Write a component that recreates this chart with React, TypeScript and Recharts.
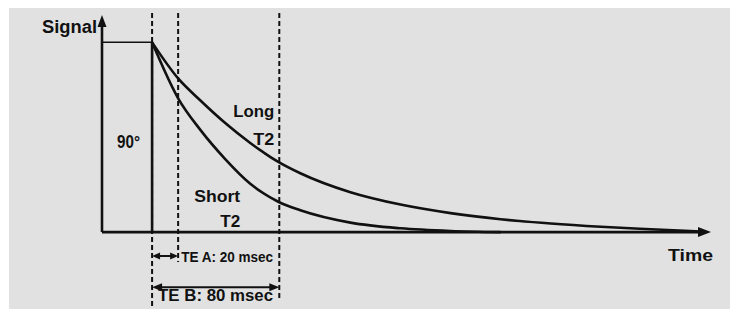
import React from 'react';
import { ComposedChart, Line, XAxis, YAxis, ReferenceLine, ReferenceDot } from 'recharts';

// time in arbitrary units (pulse at 50), signal in % of the initial value
const longT2Time = [50, 76, 98, 123, 148, 176, 198, 248, 298, 348, 398, 448, 498, 548, 598];
const longT2Signal = [100, 81, 69.5, 57.5, 47, 37, 31, 21, 14.5, 10, 6.8, 4.5, 2.8, 1.5, 0.3];

const shortT2Time = [50, 76, 98, 123, 148, 176, 198, 248, 298, 348, 398];
const shortT2Signal = [100, 70.5, 54, 38.5, 25.5, 16, 11.5, 5, 2, 0.6, 0];

const pulseTime = 50;
const teATime = 76;
const teBTime = 177;
const pulseLabel = '90°';
const axisLabels = { y: 'Signal', x: 'Time' };
const curveLabels = { long: ['Long', 'T2'], short: ['Short', 'T2'] };
const teLabels = { a: 'TE A: 20 msec', b: 'TE B: 80 msec' };

const longData = longT2Time.map((t, i) => ({ t, v: longT2Signal[i] }));
const shortData = shortT2Time.map((t, i) => ({ t, v: shortT2Signal[i] }));

const INK = '#111';
const FONT = '"Liberation Sans", Arial, sans-serif';

const arrowShape = (start: boolean, end: boolean, width: number, len = 11, half = 4.5) => (p: any) => {
  const { x1, y1, x2, y2 } = p;
  const dx = x2 - x1;
  const dy = y2 - y1;
  const d = Math.sqrt(dx * dx + dy * dy) || 1;
  const ux = dx / d;
  const uy = dy / d;
  const head = (tx: number, ty: number, sx: number, sy: number) => {
    const bx = tx - sx * len;
    const by = ty - sy * len;
    return `${tx},${ty} ${bx - sy * half},${by + sx * half} ${bx + sy * half},${by - sx * half}`;
  };
  const ax = start ? x1 + ux * (len - 1) : x1;
  const ay = start ? y1 + uy * (len - 1) : y1;
  const bx = end ? x2 - ux * (len - 1) : x2;
  const by = end ? y2 - uy * (len - 1) : y2;
  return (
    <g>
      <line x1={ax} y1={ay} x2={bx} y2={by} stroke={INK} strokeWidth={width} />
      {start && <polygon points={head(x1, y1, -ux, -uy)} fill={INK} />}
      {end && <polygon points={head(x2, y2, ux, uy)} fill={INK} />}
    </g>
  );
};

const textShape = (text: string, size: number, width: number, anchor: 'start' | 'end') => (p: any) => (
  <text
    x={p.cx}
    y={p.cy}
    textAnchor={anchor}
    fontFamily={FONT}
    fontWeight="bold"
    fontSize={size}
    fill={INK}
    textLength={width}
    lengthAdjust="spacingAndGlyphs"
  >
    {text}
  </text>
);

const Label = ({ t, v, text, size, width, anchor = 'end' }: any) => (
  <ReferenceDot x={t} y={v} r={0} ifOverflow="visible" shape={textShape(text, size, width, anchor)} />
);

const App: React.FC = () => {
  return (
    <>
      <style>{'html, body { overflow: hidden; background: #fff; }'}</style>
      <div style={{ position: 'fixed', left: 9, top: 8, right: 0, bottom: 0, background: '#e1e1e1' }}>
        <ComposedChart width={721} height={301} margin={{ top: 4, right: 19, bottom: 1, left: 93 }}>
          <XAxis type="number" dataKey="t" domain={[0, 608]} hide />
          <YAxis type="number" domain={[-40, 116]} hide />

          {/* dashed echo-time markers */}
          <ReferenceLine segment={[{ x: pulseTime, y: 115.5 }, { x: pulseTime, y: -40 }]} stroke={INK} strokeWidth={2} strokeDasharray="5 3" ifOverflow="visible" />
          <ReferenceLine segment={[{ x: teATime, y: 115.5 }, { x: teATime, y: -15.8 }]} stroke={INK} strokeWidth={2} strokeDasharray="5 3" ifOverflow="visible" />
          <ReferenceLine segment={[{ x: teBTime, y: 115.5 }, { x: teBTime, y: -35 }]} stroke={INK} strokeWidth={2} strokeDasharray="5 3" ifOverflow="visible" />

          {/* axes */}
          <ReferenceLine segment={[{ x: 0, y: 0 }, { x: 608, y: 0 }]} ifOverflow="visible" shape={arrowShape(false, true, 2.6, 13, 5)} />
          <ReferenceLine segment={[{ x: 0, y: 0 }, { x: 0, y: 114.4 }]} ifOverflow="visible" shape={arrowShape(false, true, 2.6, 12, 4.5)} />

          {/* 90 degree pulse */}
          <ReferenceLine segment={[{ x: 0, y: 100 }, { x: pulseTime, y: 100 }]} stroke={INK} strokeWidth={1.5} ifOverflow="visible" />
          <ReferenceLine segment={[{ x: pulseTime, y: 0 }, { x: pulseTime, y: 100 }]} stroke={INK} strokeWidth={2.6} ifOverflow="visible" />

          {/* TE arrows */}
          <ReferenceLine segment={[{ x: pulseTime, y: -12.6 }, { x: teATime, y: -12.6 }]} ifOverflow="visible" shape={arrowShape(true, true, 2, 8, 3.5)} />
          <ReferenceLine segment={[{ x: pulseTime, y: -29 }, { x: teBTime, y: -29 }]} ifOverflow="visible" shape={arrowShape(true, true, 2, 10, 4)} />

          <Line data={longData} dataKey="v" type="monotone" stroke={INK} strokeWidth={2.6} dot={false} isAnimationActive={false} />
          <Line data={shortData} dataKey="v" type="monotone" stroke={INK} strokeWidth={2.6} dot={false} isAnimationActive={false} />

          {Label({ t: -5, v: 104.9, text: axisLabels.y, size: 18, width: 55 })}
          {Label({ t: 610, v: -15.3, text: axisLabels.x, size: 17, width: 45 })}
          {Label({ t: 15, v: 44.3, text: pulseLabel, size: 18, width: 23, anchor: 'start' })}
          {Label({ t: 172, v: 60.6, text: curveLabels.long[0], size: 17, width: 41 })}
          {Label({ t: 172, v: 45.9, text: curveLabels.long[1], size: 17, width: 21 })}
          {Label({ t: 138, v: 15.8, text: curveLabels.short[0], size: 17, width: 46 })}
          {Label({ t: 138, v: 2.6, text: curveLabels.short[1], size: 17, width: 20 })}
          {Label({ t: 79, v: -15.8, text: teLabels.a, size: 15, width: 92, anchor: 'start' })}
          {Label({ t: 56, v: -36.4, text: teLabels.b, size: 17, width: 115, anchor: 'start' })}
        </ComposedChart>
      </div>
    </>
  );
};

export default App;
